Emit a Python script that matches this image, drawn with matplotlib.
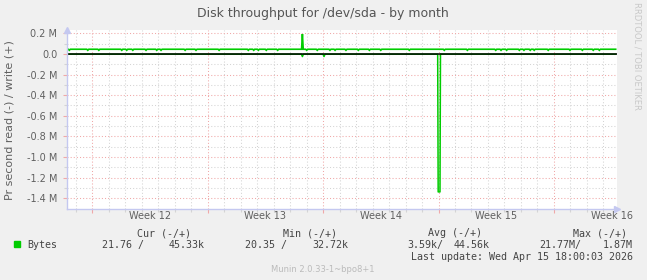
import matplotlib
matplotlib.use("Agg")
import matplotlib.pyplot as plt
from matplotlib.ticker import FixedLocator, FuncFormatter
from matplotlib.transforms import blended_transform_factory

# ---------------- data (days relative to Monday of week 12) ----------------
week_labels = ["Week 12", "Week 13", "Week 14", "Week 15", "Week 16"]
week_label_pos = [3.5, 10.5, 17.5, 24.5, 31.5]
week_starts = [0, 7, 14, 21, 28]

# write (+) series, bytes/s
write_t = [-1.52,
           -1.44, -1.38, -1.32, -0.32, -0.26, -0.20, 0.35, 0.41, 0.47,
           1.74, 1.80, 1.86, 2.04, 2.10, 2.16, 2.41, 2.47, 2.53,
           3.21, 3.27, 3.33, 3.86, 3.92, 3.98, 4.12, 4.18, 4.24,
           5.58, 5.64, 5.70, 6.24, 6.30, 6.36, 7.64, 7.70, 7.76,
           9.41, 9.47, 9.53, 9.74, 9.80, 9.86, 10.02, 10.08, 10.14,
           10.50, 10.56, 10.62, 11.19, 11.25, 11.31,
           12.70, 12.75, 12.80,
           12.95, 13.01, 13.07, 13.59, 13.65, 13.71, 14.36, 14.42, 14.48,
           14.67, 14.73, 14.79, 15.33, 15.39, 15.45, 16.08, 16.14, 16.20,
           16.75, 16.81, 16.87, 17.44, 17.50, 17.56, 19.17, 19.23, 19.29,
           21.29, 21.35, 21.41, 22.69, 22.75, 22.81,
           24.41, 24.47, 24.53, 24.73, 24.79, 24.85, 25.07, 25.13, 25.19,
           25.84, 25.90, 25.96, 26.12, 26.18, 26.24, 26.50, 26.56, 26.62,
           26.74, 26.80, 26.86, 27.59, 27.65, 27.71, 28.91, 28.97, 29.03,
           29.66, 29.72, 29.78, 30.32, 30.38, 30.44, 30.69, 30.75, 30.81,
           31.74]
write_v = [46e3,
           46e3, 36e3, 46e3, 46e3, 36e3, 46e3, 46e3, 36e3, 46e3,
           46e3, 36e3, 46e3, 46e3, 36e3, 46e3, 46e3, 36e3, 46e3,
           46e3, 36e3, 46e3, 46e3, 36e3, 46e3, 46e3, 36e3, 46e3,
           46e3, 36e3, 46e3, 46e3, 36e3, 46e3, 46e3, 36e3, 46e3,
           46e3, 36e3, 46e3, 46e3, 36e3, 46e3, 46e3, 36e3, 46e3,
           46e3, 36e3, 46e3, 46e3, 36e3, 46e3,
           46e3, 194e3, 46e3,
           46e3, 36e3, 46e3, 46e3, 36e3, 46e3, 46e3, 36e3, 46e3,
           46e3, 36e3, 46e3, 46e3, 36e3, 46e3, 46e3, 36e3, 46e3,
           46e3, 36e3, 46e3, 46e3, 36e3, 46e3, 46e3, 36e3, 46e3,
           46e3, 36e3, 46e3, 46e3, 36e3, 46e3,
           46e3, 36e3, 46e3, 46e3, 36e3, 46e3, 46e3, 36e3, 46e3,
           46e3, 36e3, 46e3, 46e3, 36e3, 46e3, 46e3, 36e3, 46e3,
           46e3, 36e3, 46e3, 46e3, 36e3, 46e3, 46e3, 36e3, 46e3,
           46e3, 36e3, 46e3, 46e3, 36e3, 46e3, 46e3, 36e3, 46e3,
           46e3]

# read (-) series, bytes/s (plotted negative)
read_t = [-1.52, 12.69, 12.75, 12.81, 14.00, 14.06, 14.12,
          20.95, 20.98, 21.09, 21.12, 31.74]
read_v = [-2e3, -2e3, -25e3, -2e3, -2e3, -25e3, -2e3,
          -2e3, -1.34e6, -1.34e6, -2e3, -2e3]

y_major = [0.2e6, 0.0, -0.2e6, -0.4e6, -0.6e6, -0.8e6, -1.0e6, -1.2e6, -1.4e6]
y_minor = [0.1e6, -0.1e6, -0.3e6, -0.5e6, -0.7e6, -0.9e6, -1.1e6, -1.3e6]

# ---------------- figure ----------------
W, H = 647, 280
fig = plt.figure(figsize=(W / 100, H / 100), dpi=100, facecolor="#F0F0F0")

def fx(x):
    return x / W

def fy(y):
    return 1 - y / H

L, R, T, B = 67, 617, 30, 209
ax = fig.add_axes([fx(L), fy(B), fx(R) - fx(L), fy(T) - fy(B)])
ax.set_facecolor("white")

xmin, xmax = -1.52, 31.82
ax.set_xlim(xmin, xmax)
ax.set_ylim(-1.506e6, 0.233e6)

RED = "#F0A8A8"
GRAY = "#D4D4D4"
dot = (0, (1, 2))

# grid
ax.xaxis.set_major_locator(FixedLocator(week_starts))
ax.xaxis.set_minor_locator(FixedLocator([d for d in range(-1, 32) if d % 7 != 0]))
ax.yaxis.set_major_locator(FixedLocator(y_major))
ax.yaxis.set_minor_locator(FixedLocator(y_minor))
ax.grid(which="minor", color=GRAY, linestyle=dot, linewidth=0.75)
ax.grid(which="major", color=RED, linestyle=dot, linewidth=0.75)
ax.set_axisbelow(True)

ax.xaxis.set_major_formatter(FuncFormatter(lambda v, p: ""))
def yfmt(v, p):
    if abs(v) < 1:
        return "0.0"
    return f"{v/1e6:.1f} M"
ax.yaxis.set_major_formatter(FuncFormatter(yfmt))

ax.tick_params(axis="x", which="major", length=3, color=RED, width=0.8, direction="out")
ax.tick_params(axis="x", which="minor", length=2, color=GRAY, width=0.8, direction="out")
ax.tick_params(axis="y", which="major", length=3, color=RED, width=0.8,
               labelsize=7, labelcolor="#606060", pad=4)
ax.tick_params(axis="y", which="minor", length=2, color=GRAY, width=0.8)

for s in ["top", "right"]:
    ax.spines[s].set_visible(False)
for s in ["left", "bottom"]:
    ax.spines[s].set_color("#C4C8F0")
    ax.spines[s].set_linewidth(1.0)

# arrows on axes
ax.plot([1.0], [0.0], marker=">", color="#C4C8F0", markersize=4,
        transform=ax.transAxes, clip_on=False)
ax.plot([0.0], [1.0], marker="^", color="#C4C8F0", markersize=4,
        transform=ax.transAxes, clip_on=False)

# week labels
trans = blended_transform_factory(ax.transData, ax.transAxes)
for lab, pos in zip(week_labels, week_label_pos):
    ax.text(pos, -0.038, lab, transform=trans, ha="center", va="center",
            fontsize=7, color="#606060", clip_on=False)

# data
ax.plot(write_t, write_v, color="#00CC00", linewidth=1.2, solid_joinstyle="miter")
ax.plot(read_t, read_v, color="#00CC00", linewidth=1.1)
ax.axhline(0, color="black", linewidth=1.1)

# titles
fig.text(fx(323), fy(14), "Disk throughput for /dev/sda - by month",
         ha="center", va="center", fontsize=9, color="#555555")
fig.text(fx(10), fy(120), "Pr second read (-) / write (+)", rotation=90,
         ha="center", va="center", fontsize=8, color="#606060")
fig.text(fx(637), fy(56), "RRDTOOL / TOBI OETIKER", rotation=270,
         ha="center", va="center", fontsize=6, color="#C8C8C8")

# legend (monospace)
mono = dict(family="DejaVu Sans Mono", fontsize=7.2, color="#444444", va="center")
fig.text(fx(137), fy(233), "Cur (-/+)", ha="left", **mono)
fig.text(fx(283), fy(233), "Min (-/+)", ha="left", **mono)
fig.text(fx(428), fy(233), "Avg (-/+)", ha="left", **mono)
fig.text(fx(573), fy(233), "Max (-/+)", ha="left", **mono)

fig.patches.append(plt.Rectangle((fx(14), fy(247)), fx(6), 6 / H,
                                 transform=fig.transFigure, color="#00CC00"))
fig.text(fx(27), fy(245), "Bytes", ha="left", **mono)
fig.text(fx(102), fy(245), "21.76 /", ha="left", **mono)
fig.text(fx(205), fy(245), "45.33k", ha="right", **mono)
fig.text(fx(245), fy(245), "20.35 /", ha="left", **mono)
fig.text(fx(348), fy(245), "32.72k", ha="right", **mono)
fig.text(fx(443), fy(245), "3.59k/", ha="right", **mono)
fig.text(fx(490), fy(245), "44.56k", ha="right", **mono)
fig.text(fx(581), fy(245), "21.77M/", ha="right", **mono)
fig.text(fx(633), fy(245), "1.87M", ha="right", **mono)
fig.text(fx(633), fy(257.5), "Last update: Wed Apr 15 18:00:03 2026", ha="right", **mono)

fig.text(fx(323), fy(269), "Munin 2.0.33-1~bpo8+1", ha="center", va="center",
         fontsize=6, color="#BBBBBB")

fig.savefig("out.png", dpi=100, facecolor=fig.get_facecolor())
